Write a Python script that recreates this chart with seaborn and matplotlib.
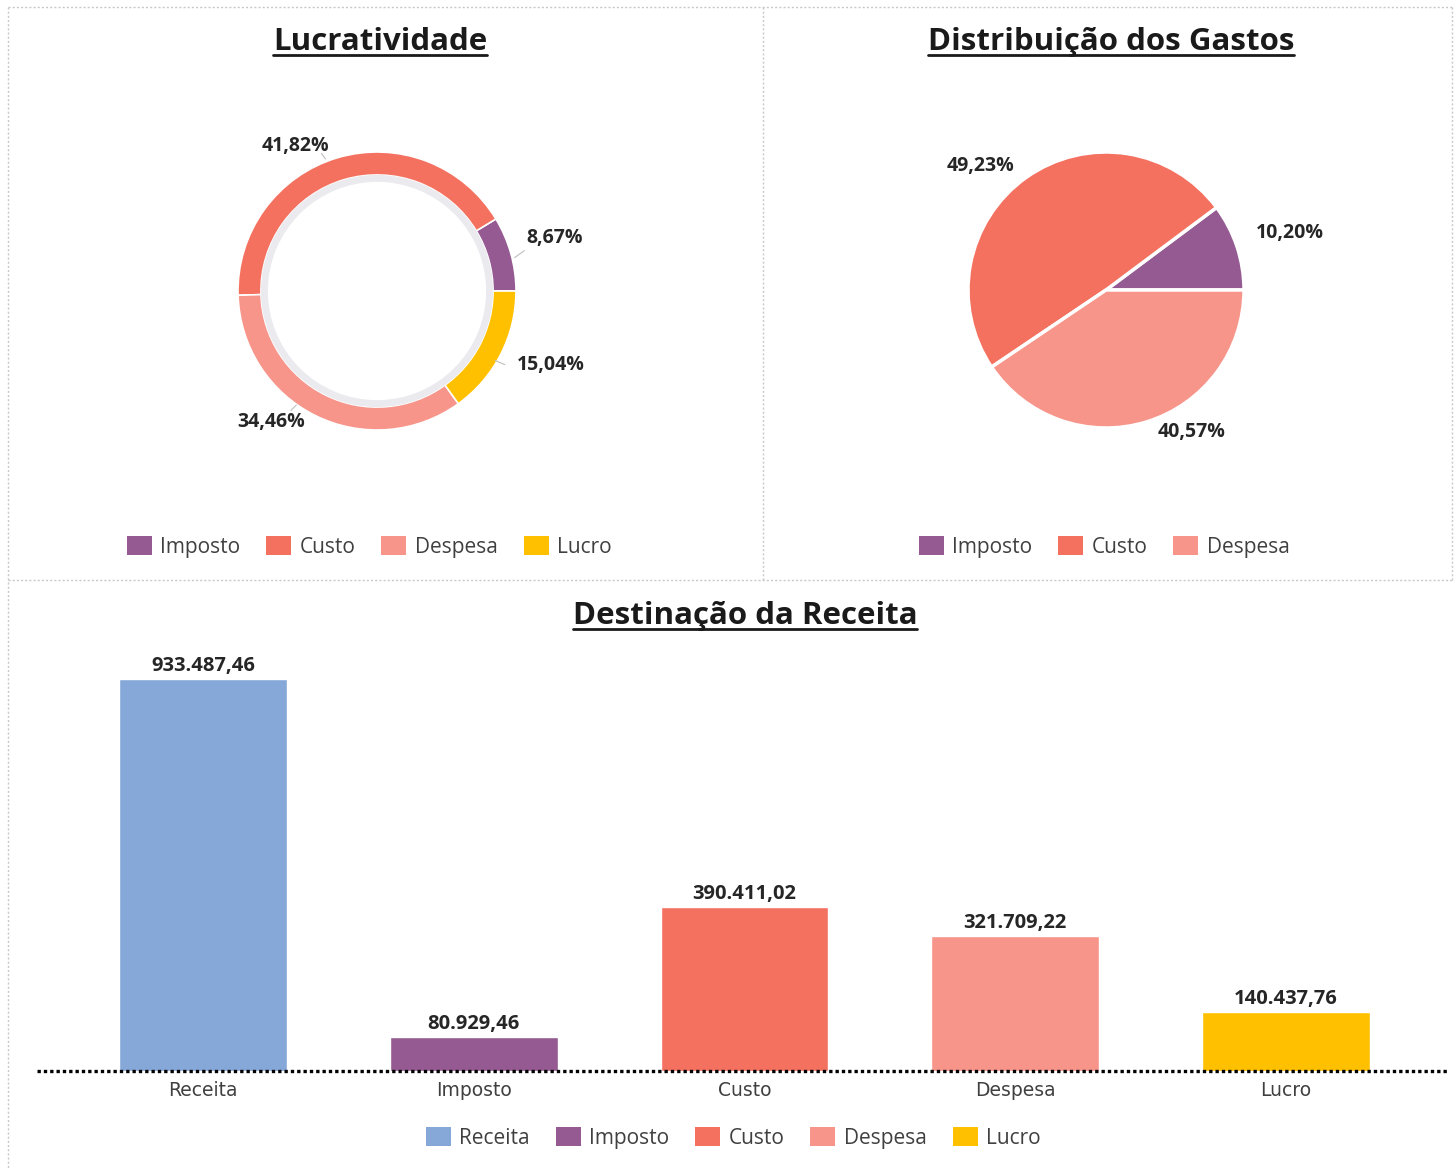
import matplotlib
matplotlib.use("Agg")
import matplotlib.pyplot as plt
from matplotlib.patches import Patch, Wedge
from matplotlib.lines import Line2D
import seaborn as sns
import pandas as pd

# ---- data ----
categorias = ["Receita", "Imposto", "Custo", "Despesa", "Lucro"]
valores = [933487.46, 80929.46, 390411.02, 321709.22, 140437.76]
cores = ["#86A8D8", "#945A91", "#F47160", "#F7958A", "#FFC000"]

lucr_cats = ["Imposto", "Custo", "Despesa", "Lucro"]
gastos_cats = ["Imposto", "Custo", "Despesa"]

cor = dict(zip(categorias, cores))
val = dict(zip(categorias, valores))


def br_num(v):
    s = f"{v:,.2f}"
    return s.replace(",", "X").replace(".", ",").replace("X", ".")


def br_pct(p):
    return f"{p:.2f}%".replace(".", ",")


sns.set_theme(style="white")
FONT = ["Open Sans", "DejaVu Sans"]
plt.rcParams["font.family"] = FONT

W, H = 1455, 1168
fig = plt.figure(figsize=(W / 100, H / 100), dpi=100)
fig.patch.set_facecolor("white")


def px_axes(cx, cy, half):
    """Square axes centred on pixel (cx, cy) with half-size in pixels."""
    return fig.add_axes([(cx - half) / W, 1 - (cy + half) / H, 2 * half / W, 2 * half / H])


TXT = "#262626"
LEG = "#404040"
LIM = 1.6

# ---- donut: Lucratividade ----
R1 = 139
ax1 = px_axes(377, 291, R1 * LIM)
lv = [val[c] for c in lucr_cats]
tot_r = val["Receita"]
ax1.pie(lv, colors=[cor[c] for c in lucr_cats], startangle=0, counterclock=True,
        radius=1.0, wedgeprops=dict(width=0.165, edgecolor="white", linewidth=1.2))
ax1.add_patch(Wedge((0, 0), 0.835, 0, 360, width=0.05, facecolor="#EBEBEF", edgecolor="none"))
ax1.set_xlim(-LIM, LIM)
ax1.set_ylim(-LIM, LIM)
ax1.set_aspect("equal")
ax1.axis("off")
lab_pos1 = [(1.28, 0.38), (-0.59, 1.04), (-0.76, -0.94), (1.25, -0.53)]
line_pts1 = [((0.99, 0.24), (1.06, 0.29)), ((-0.37, 0.95), (-0.40, 0.99)),
             ((-0.58, -0.82), (-0.62, -0.86)), ((0.85, -0.50), (0.92, -0.53))]
for c, (x, y), (p0, p1) in zip(lucr_cats, lab_pos1, line_pts1):
    ax1.text(x, y, br_pct(val[c] / tot_r * 100), ha="center", va="center",
             fontsize=14, fontweight="bold", color=TXT)
    ax1.plot([p0[0], p1[0]], [p0[1], p1[1]], color="#BFBFBF", lw=0.8)

# ---- pie: Distribuição dos Gastos ----
R2 = 138
ax2 = px_axes(1106, 290, R2 * LIM)
gv = [val[c] for c in gastos_cats]
tot_g = sum(gv)
ax2.pie(gv, colors=[cor[c] for c in gastos_cats], startangle=0, counterclock=True,
        radius=1.0, wedgeprops=dict(edgecolor="white", linewidth=2.5))
ax2.set_xlim(-LIM, LIM)
ax2.set_ylim(-LIM, LIM)
ax2.set_aspect("equal")
ax2.axis("off")
lab_pos2 = [(1.33, 0.41), (-0.91, 0.90), (0.62, -1.03)]
for c, (x, y) in zip(gastos_cats, lab_pos2):
    ax2.text(x, y, br_pct(val[c] / tot_g * 100), ha="center", va="center",
             fontsize=14, fontweight="bold", color=TXT)

# ---- bars: Destinação da Receita ----
base_px, top_px = 1071, 679
ymax_factor = 1.10
ax_h = (base_px - top_px) * ymax_factor
left_px, right_px = 37, 1448
ax3 = fig.add_axes([left_px / W, 1 - base_px / H, (right_px - left_px) / W, ax_h / H])
df = pd.DataFrame({"categoria": categorias, "valor": valores})
sns.barplot(data=df, x="categoria", y="valor", hue="categoria", palette=cores,
            order=categorias, hue_order=categorias, width=0.62, legend=False,
            saturation=1, ax=ax3)
ax3.set_xlim(-0.613, 4.598)
ax3.set_ylim(0, max(valores) * ymax_factor)
ax3.axhline(0, color="black", lw=2.4, ls=(0, (1, 0.9)), zorder=5, clip_on=False)
for cont in ax3.containers:
    ax3.bar_label(cont, labels=[br_num(v) for v in cont.datavalues], padding=2,
                  fontsize=14.5, fontweight="bold", color=TXT)
sns.despine(ax=ax3, left=True, bottom=True)
ax3.set_yticks([])
ax3.set_xlabel("")
ax3.set_ylabel("")
ax3.tick_params(axis="x", length=0, pad=7, labelsize=13.5, labelcolor=LEG)
for lbl in ax3.get_xticklabels():
    lbl.set_fontfamily("DejaVu Sans")
ax3.set_facecolor("none")

# ---- titles with underline ----
titles = [("Lucratividade", 380, 42), ("Distribuição dos Gastos", 1111, 42),
          ("Destinação da Receita", 745, 616)]
title_objs = []
for t, x, y in titles:
    title_objs.append(fig.text(x / W, 1 - y / H, t, ha="center", va="center",
                               fontsize=22.5, fontweight="bold", color="#1a1a1a"))

# ---- legends ----
def legend_at(names, cx, cy):
    handles = [Patch(facecolor=cor[n], edgecolor="none", label=n) for n in names]
    fig.legend(handles=handles, loc="center", bbox_to_anchor=(cx / W, 1 - cy / H),
               ncol=len(names), frameon=False, fontsize=15, labelcolor=LEG,
               handlelength=1.2, handleheight=1.05, handletextpad=0.4, columnspacing=1.25)


legend_at(lucr_cats, 369, 547)
legend_at(gastos_cats, 1104, 547)
legend_at(categorias, 733, 1138)

# ---- panel borders ----
def fline(x0, y0, x1, y1):
    fig.add_artist(Line2D([x0 / W, x1 / W], [1 - y0 / H, 1 - y1 / H], color="#C8C8C8",
                          lw=1.0, ls=(0, (1.5, 1.5))))


fline(8, 7, 1452, 7)
fline(8, 580, 1452, 580)
fline(8, 7, 8, 1168)
fline(763, 7, 763, 580)
fline(1452, 7, 1452, 580)

fig.canvas.draw()
renderer = fig.canvas.get_renderer()
for t in title_objs:
    bb = t.get_window_extent(renderer)
    yline = bb.y0 + 2
    fig.add_artist(Line2D([bb.x0 / W, bb.x1 / W], [yline / H, yline / H],
                          color="#1a1a1a", lw=2.0))

fig.savefig("out.png", dpi=100, facecolor="white")
